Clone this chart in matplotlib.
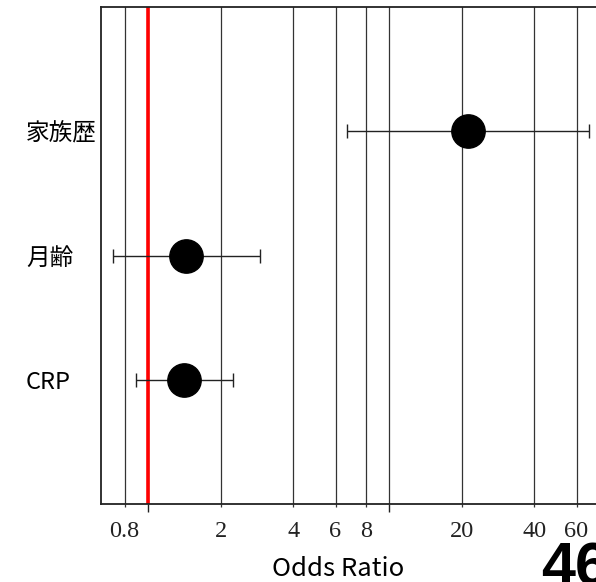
import matplotlib
matplotlib.use("Agg")
import matplotlib.pyplot as plt
from matplotlib.ticker import FixedLocator, NullFormatter, FixedFormatter

# Logistic regression results (odds ratio with 95% CI)
variables = ["CRP", "月齢", "家族歴"]
odds_ratio = [1.41, 1.44, 21.3]
ci_lower = [0.89, 0.716, 6.7]
ci_upper = [2.25, 2.92, 67.6]

major_ticks = [1, 10]
minor_ticks = [0.8, 2, 4, 6, 8, 20, 40, 60]
minor_labels = ["0.8", "2", "4", "6", "8", "20", "40", "60"]

sans = ["Noto Sans CJK JP", "DejaVu Sans"]
serif = ["Liberation Serif", "DejaVu Serif"]

fig = plt.figure(figsize=(5.96, 5.82), dpi=100)
ax = fig.add_axes([101 / 596, 1 - 504 / 582, 1 - 101 / 596 + 0.01, (504 - 7) / 582])

ax.set_xscale("log")
ax.set_xlim(0.638, 76.5)
ax.set_ylim(0, 4)

ypos = list(range(1, len(variables) + 1))

# vertical reference grid at every tick
for v in major_ticks + minor_ticks:
    ax.axvline(v, color="#333333", lw=0.9, zorder=1)
ax.axvline(1, color="red", lw=2.6, zorder=2)

xerr = [[o - l for o, l in zip(odds_ratio, ci_lower)],
        [u - o for o, u in zip(odds_ratio, ci_upper)]]
ax.errorbar(odds_ratio, ypos, xerr=xerr, fmt="o", color="black",
            ecolor="#222222", elinewidth=1.0, capsize=4.8, capthick=1.0,
            markersize=24, zorder=3)

ax.xaxis.set_major_locator(FixedLocator(major_ticks))
ax.xaxis.set_major_formatter(NullFormatter())
ax.xaxis.set_minor_locator(FixedLocator(minor_ticks))
ax.xaxis.set_minor_formatter(FixedFormatter(minor_labels))
ax.tick_params(axis="x", which="major", length=6, width=1.0, color="#222222")
ax.tick_params(axis="x", which="minor", length=2.5, width=0.9, color="#333333",
               pad=10, labelsize=17.5)
for lbl in ax.get_xticklabels(minor=True):
    lbl.set_fontfamily(serif)
    lbl.set_color("#222222")

ax.set_yticks(ypos)
ax.set_yticklabels(variables, fontfamily=sans, fontsize=17, ha="left")
ax.tick_params(axis="y", length=0, pad=54)

ax.set_xlabel("Odds Ratio", fontfamily=sans, fontsize=18.5)
ax.xaxis.set_label_coords(0.473, -0.105)

for side in ["left", "top", "bottom"]:
    ax.spines[side].set_linewidth(1.3)
    ax.spines[side].set_color("#222222")
ax.spines["right"].set_visible(False)

fig.text(541 / 596, 1 - 541 / 582, "46", fontfamily=["Liberation Sans", "DejaVu Sans"],
         fontweight="bold", fontsize=44, ha="left", va="top")

fig.savefig("out.png", dpi=100)
